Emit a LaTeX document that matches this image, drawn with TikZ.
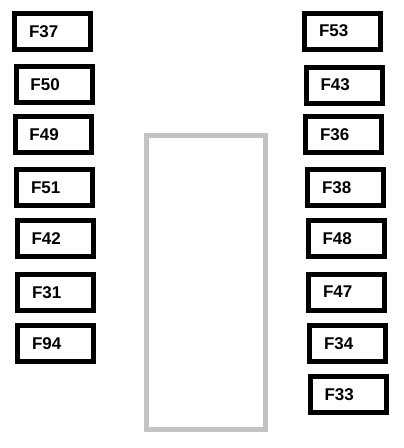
\documentclass[tikz,border=0pt]{standalone}
\usepackage{fontspec}
\setmainfont{Liberation Sans}
\usepackage{tikz}
\definecolor{slotgray}{HTML}{C3C3C3}
\tikzstyle{fuse} = [draw,rectangle,line width=5pt,minimum height=36pt,text width=47pt,inner xsep=14.5pt,align=left,font=\fontsize{17}{17}\selectfont\bfseries]
\tikzstyle{slot} = [draw=slotgray,rectangle,line width=5pt,minimum width=119pt,minimum height=294pt,inner sep=0pt]

\begin{document}
\begin{tikzpicture}[x=1pt,y=-1pt]
          \useasboundingbox (0,0) rectangle (404,448);
          \node[slot] (box) at (206, 282.5) {};

          \node[fuse] (f37) at (52.5, 31.5) {F37};
          \node[fuse] (f50) at (54, 84.5) {F50};
          \node[fuse] (f49) at (53, 134.5) {F49};
          \node[fuse] (f51) at (54.5, 187.5) {F51};
          \node[fuse] (f42) at (55, 238.5) {F42};
          \node[fuse] (f31) at (55.5, 292.5) {F31};
          \node[fuse] (f94) at (55.5, 343.5) {F94};

          \node[fuse] (f53) at (342.5, 31) {F53};
          \node[fuse] (f43) at (344, 85) {F43};
          \node[fuse] (f36) at (343.5, 134.5) {F36};
          \node[fuse] (f38) at (345.5, 187.5) {F38};
          \node[fuse] (f48) at (346, 238.5) {F48};
          \node[fuse] (f47) at (346.5, 292) {F47};
          \node[fuse] (f34) at (347.5, 343.5) {F34};
          \node[fuse] (f33) at (348, 394.5) {F33};
        \end{tikzpicture}
\end{document}
